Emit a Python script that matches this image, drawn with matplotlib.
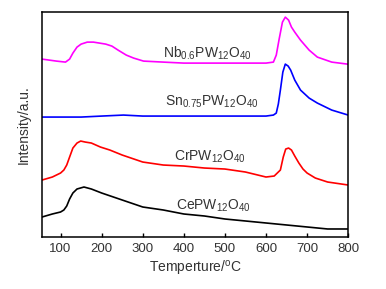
import matplotlib
matplotlib.use("Agg")
import matplotlib.pyplot as plt

plt.rcParams['font.family'] = ['Liberation Sans', 'DejaVu Sans']
plt.rcParams['mathtext.fontset'] = 'custom'
plt.rcParams['mathtext.rm'] = 'Liberation Sans'

# TPD-like curves (arbitrary intensity units)
nb_t = [55, 90, 112, 122, 130, 140, 150, 165, 180, 195, 210, 225, 240, 260, 278, 302, 350, 400, 500, 600, 618, 625, 632, 640, 647, 655, 662, 670, 684, 705, 725, 760, 798]
nb_i = [178, 176, 175, 178, 184, 190, 193, 195, 195, 194, 193, 191, 187, 182, 179, 176, 175, 174, 174, 174, 175, 182, 198, 215, 220, 217, 210, 205, 197, 187, 180, 175, 173]

sn_t = [55, 150, 200, 253, 300, 350, 500, 600, 618, 625, 630, 635, 641, 647, 654, 660, 670, 684, 705, 725, 760, 800]
sn_i = [120, 120, 121, 122, 121, 121, 121, 121, 122, 124, 133, 147, 165, 173, 171, 167, 157, 147, 139, 134, 127, 122]

cr_t = [55, 80, 100, 108, 115, 122, 130, 140, 149, 160, 175, 197, 220, 250, 300, 350, 400, 450, 500, 550, 580, 600, 620, 635, 642, 648, 655, 662, 670, 680, 690, 700, 720, 750, 800]
cr_i = [57, 60, 64, 67, 72, 80, 89, 94, 96, 95, 94, 90, 87, 82, 75, 72, 71, 69, 68, 65, 62, 60, 61, 67, 80, 88, 89, 87, 81, 74, 68, 64, 59, 55, 52]

ce_t = [55, 80, 100, 108, 115, 122, 130, 140, 157, 175, 200, 250, 300, 350, 400, 450, 500, 600, 650, 700, 750, 800]
ce_i = [20, 23, 25, 27, 31, 38, 44, 48, 50, 48, 44, 37, 30, 27, 23, 21, 18, 14, 12, 10, 8, 8]

xticks = [100, 200, 300, 400, 500, 600, 700, 800]

fig = plt.figure(figsize=(3.86, 2.89), dpi=100)
ax = fig.add_axes([0.109, 0.180, 0.793, 0.778])

ax.plot(nb_t, nb_i, color='#ff00ff', lw=1.2)
ax.plot(sn_t, sn_i, color='#0000ff', lw=1.2)
ax.plot(cr_t, cr_i, color='#ff0000', lw=1.2)
ax.plot(ce_t, ce_i, color='#000000', lw=1.2)

fs = 10
ax.text(350, 180, r'Nb$_{0.6}$PW$_{12}$O$_{40}$', fontsize=fs, va='baseline', color='#333333')
ax.text(355, 131, r'Sn$_{0.75}$PW$_{12}$O$_{40}$', fontsize=fs, va='baseline', color='#333333')
ax.text(375, 76, r'CrPW$_{12}$O$_{40}$', fontsize=fs, va='baseline', color='#333333')
ax.text(380, 27, r'CePW$_{12}$O$_{40}$', fontsize=fs, va='baseline', color='#333333')

ax.set_xlim(55, 800)
ax.set_ylim(0, 225)
ax.set_xticks(xticks)
ax.set_yticks([])
ax.tick_params(axis='x', direction='in', length=3, width=1, labelsize=9.5, pad=4, labelcolor='#333333')
for s in ax.spines.values():
    s.set_linewidth(1.1)

ax.set_xlabel('Temperture/$^{\\rm o}$C', fontsize=fs, labelpad=3, color='#333333')
ax.set_ylabel('Intensity/a.u.', fontsize=fs, labelpad=8, color='#333333')

fig.savefig('out.png', dpi=100)
